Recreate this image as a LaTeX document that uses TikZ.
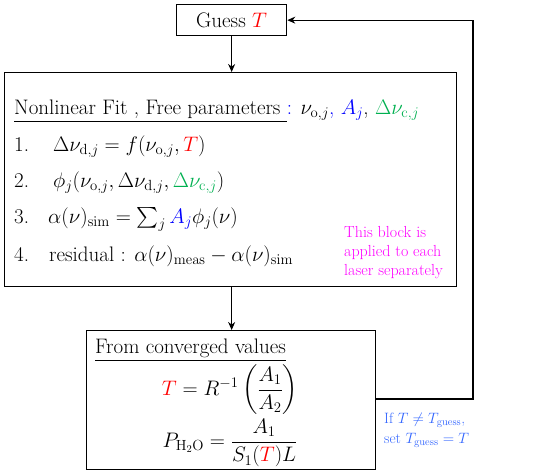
\documentclass[tikz,border=0pt]{standalone}
\usepackage{fix-cm}
\usepackage{amsmath}
\usetikzlibrary{arrows.meta}
\definecolor{cred}{RGB}{255,0,0}
\definecolor{cblue}{RGB}{0,0,255}
\definecolor{cgreen}{RGB}{0,176,80}
\definecolor{cmag}{RGB}{255,0,255}
\definecolor{clblue}{RGB}{51,102,255}
\begin{document}
\begin{tikzpicture}[x=1pt,y=-1pt,
  box/.style={draw, line width=1.3pt, inner sep=0pt, anchor=north west},
  arr/.style={-{Stealth[length=8pt,width=7pt]}, line width=1.2pt},
  big/.style={font=\fontsize{21}{25}\selectfont, inner sep=0pt, anchor=base west},
  note/.style={font=\fontsize{16}{19}\selectfont, inner sep=0pt, anchor=base west, align=left}]
\useasboundingbox (0,0) rectangle (548,471);
% boxes
\node[box, minimum width=110pt, minimum height=31pt] (guess) at (176,4) {};
\node[big, anchor=center] (guesst) at (guess.center) {Guess \textcolor{cred}{$T$}};
\node[box, minimum width=452pt, minimum height=214pt] (fit) at (4,72) {};
\node[box, minimum width=289pt, minimum height=139pt] (conv) at (86,330) {};
% fit block text
\node[big] (hdr) at (14,114) {\underline{Nonlinear Fit , Free parameters }\textcolor{cblue}{:} $\nu_{\mathrm{o},j}$\textcolor{cblue}{, $A_j$}, \textcolor{cgreen}{$\Delta\nu_{\mathrm{c},j}$}};
\node[big] (n1) at (14,151) {1.};
\node[big] (f1) at (53,151) {$\Delta\nu_{\mathrm{d},j} = f(\nu_{\mathrm{o},j},\textcolor{cred}{T})$};
\node[big] (n2) at (14,187) {2.};
\node[big] (f2) at (53,187) {$\phi_j(\nu_{\mathrm{o},j},\Delta\nu_{\mathrm{d},j},\textcolor{cgreen}{\Delta\nu_{\mathrm{c},j}})$};
\node[big] (n3) at (14,223) {3.};
\node[big] (f3) at (48,223) {$\alpha(\nu)_{\mathrm{sim}} = \sum_j \textcolor{cblue}{A_j}\phi_j(\nu)$};
\node[big] (n4) at (14,261) {4.};
\node[big] (f4) at (49,261) {residual : $\alpha(\nu)_{\mathrm{meas}} - \alpha(\nu)_{\mathrm{sim}}$};
\node[note, text=cmag] (blk) at (344,275) {This block is\\applied to each\\laser separately};
% converged block text
\node[big] (fromc) at (95,353) {\underline{From converged values}};
\node[big, anchor=center] (eqT) at (230,390) {$\textcolor{cred}{T} = R^{-1}\left(\dfrac{A_1}{A_2}\right)$};
\node[big, anchor=center] (eqP) at (230,443) {$P_{\mathrm{H_2O}} = \dfrac{A_1}{S_1(\textcolor{cred}{T})L}$};
\node[note, text=clblue, font=\fontsize{15}{20}\selectfont] (ift) at (384,443) {If $T\neq T_{\mathrm{guess}}$,\\set $T_{\mathrm{guess}} = T$};
% connectors
\draw[arr] (guess.south) -- (guess.south |- fit.north);
\draw[arr] (fit.south -| guess.south) -- (guess.south |- conv.north);
\coordinate (c1) at (473,399);
\draw[arr] (conv.east |- c1) -- (c1) |- (guess.east);
\end{tikzpicture}
\end{document}
